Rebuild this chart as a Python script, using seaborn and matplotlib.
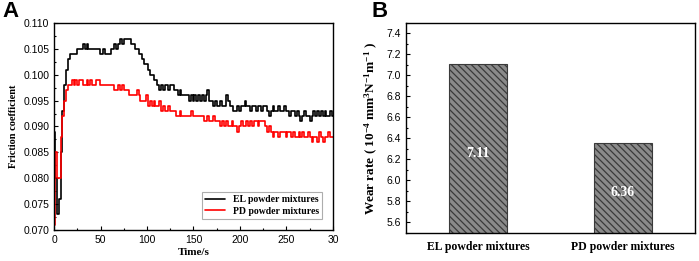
import numpy as np
import pandas as pd
import matplotlib
matplotlib.use("Agg")
import matplotlib.pyplot as plt
import seaborn as sns
from matplotlib.ticker import MultipleLocator

# ---------------- data ----------------
time_s = list(range(0, 301, 2))

el_friction = [
    0.089, 0.080, 0.073, 0.076, 0.085, 0.093, 0.098, 0.101, 0.103, 0.104,  # 0-18
    0.104, 0.104, 0.104, 0.105, 0.105, 0.105, 0.106, 0.105, 0.106, 0.105,  # 20-38
    0.105, 0.105, 0.105, 0.105, 0.105, 0.104, 0.104, 0.105, 0.104, 0.104,  # 40-58
    0.104, 0.105, 0.105, 0.106, 0.105, 0.106, 0.107, 0.106, 0.107, 0.107,  # 60-78
    0.107, 0.107, 0.106, 0.106, 0.105, 0.105, 0.104, 0.104, 0.103, 0.102,  # 80-98
    0.102, 0.101, 0.100, 0.100, 0.099, 0.099, 0.098, 0.097, 0.098, 0.097,  # 100-118
    0.098, 0.098, 0.097, 0.098, 0.098, 0.097, 0.097, 0.096, 0.097, 0.096,  # 120-138
    0.096, 0.096, 0.096, 0.095, 0.096, 0.095, 0.096, 0.095, 0.096, 0.095,  # 140-158
    0.096, 0.095, 0.096, 0.097, 0.095, 0.095, 0.094, 0.095, 0.094, 0.094,  # 160-178
    0.095, 0.094, 0.094, 0.096, 0.095, 0.094, 0.094, 0.093, 0.093, 0.094,  # 180-198
    0.093, 0.094, 0.094, 0.095, 0.094, 0.094, 0.093, 0.094, 0.094, 0.093,  # 200-218
    0.094, 0.094, 0.093, 0.094, 0.094, 0.093, 0.092, 0.093, 0.094, 0.093,  # 220-238
    0.093, 0.094, 0.093, 0.093, 0.094, 0.093, 0.093, 0.092, 0.093, 0.093,  # 240-258
    0.092, 0.093, 0.092, 0.091, 0.092, 0.093, 0.092, 0.092, 0.091, 0.092,  # 260-278
    0.093, 0.092, 0.093, 0.092, 0.093, 0.092, 0.093, 0.092, 0.092, 0.093,  # 280-298
    0.092,                                                                 # 300
]

pd_friction = [
    0.071, 0.085, 0.080, 0.080, 0.088, 0.092, 0.095, 0.097, 0.098, 0.098,  # 0-18
    0.099, 0.098, 0.099, 0.098, 0.099, 0.099, 0.098, 0.098, 0.099, 0.098,  # 20-38
    0.099, 0.098, 0.098, 0.099, 0.099, 0.098, 0.098, 0.098, 0.098, 0.098,  # 40-58
    0.098, 0.098, 0.098, 0.097, 0.097, 0.098, 0.097, 0.098, 0.097, 0.097,  # 60-78
    0.097, 0.096, 0.096, 0.096, 0.096, 0.097, 0.096, 0.095, 0.095, 0.095,  # 80-98
    0.096, 0.094, 0.095, 0.094, 0.095, 0.094, 0.094, 0.095, 0.093, 0.094,  # 100-118
    0.093, 0.093, 0.094, 0.093, 0.093, 0.093, 0.092, 0.092, 0.093, 0.092,  # 120-138
    0.092, 0.092, 0.092, 0.092, 0.093, 0.092, 0.092, 0.092, 0.092, 0.092,  # 140-158
    0.092, 0.091, 0.091, 0.092, 0.091, 0.091, 0.092, 0.091, 0.091, 0.091,  # 160-178
    0.090, 0.091, 0.090, 0.091, 0.090, 0.090, 0.091, 0.090, 0.090, 0.089,  # 180-198
    0.090, 0.091, 0.090, 0.090, 0.091, 0.090, 0.091, 0.090, 0.091, 0.091,  # 200-218
    0.090, 0.091, 0.091, 0.091, 0.090, 0.089, 0.090, 0.089, 0.088, 0.089,  # 220-238
    0.089, 0.088, 0.089, 0.089, 0.089, 0.088, 0.089, 0.089, 0.088, 0.089,  # 240-258
    0.088, 0.088, 0.089, 0.088, 0.089, 0.088, 0.088, 0.089, 0.088, 0.087,  # 260-278
    0.088, 0.088, 0.087, 0.089, 0.088, 0.087, 0.088, 0.088, 0.089, 0.088,  # 280-298
    0.088,                                                                 # 300
]

series_labels = ["EL powder mixtures", "PD powder mixtures"]
wear_categories = ["EL powder mixtures", "PD powder mixtures"]
wear_rates = [7.11, 6.36]
x_tick_values = [0, 50, 100, 150, 200, 250, 300]
x_tick_labels = ["0", "50", "100", "150", "200", "250", "30"]

# ---------------- style ----------------
sns.set_style("ticks")
plt.rcParams["font.family"] = ["Liberation Sans", "DejaVu Sans"]
plt.rcParams["mathtext.fontset"] = "custom"
plt.rcParams["mathtext.rm"] = "Liberation Serif:bold"
plt.rcParams["mathtext.bf"] = "Liberation Serif:bold"
plt.rcParams["mathtext.it"] = "Liberation Serif:bold"
plt.rcParams["hatch.linewidth"] = 0.9
plt.rcParams["hatch.color"] = "#3a3a3a"
for k in ["text.color", "axes.labelcolor", "xtick.color", "ytick.color", "axes.edgecolor"]:
    plt.rcParams[k] = "black"

serif_bold = dict(family="Liberation Serif", weight="bold")

fig = plt.figure(figsize=(6.99, 2.61), dpi=100)
axA = fig.add_axes([0.0773, 0.1188, 0.399, 0.7931])
axB = fig.add_axes([0.5808, 0.1073, 0.4135, 0.8046])

# ---------------- Panel A ----------------
df = pd.DataFrame({
    "time": time_s * 2,
    "mu": el_friction + pd_friction,
    "series": [series_labels[0]] * len(time_s) + [series_labels[1]] * len(time_s),
})
sns.lineplot(data=df, x="time", y="mu", hue="series",
             palette={series_labels[0]: "black", series_labels[1]: "#ff0000"},
             drawstyle="steps-mid", linewidth=1.2, ax=axA, legend=True)
axA.set_xlim(0, 300)
axA.set_ylim(0.070, 0.110)
axA.set_xticks(x_tick_values)
axA.set_xticklabels(x_tick_labels)
axA.yaxis.set_major_locator(MultipleLocator(0.005))
axA.yaxis.set_major_formatter(matplotlib.ticker.FormatStrFormatter("%.3f"))
axA.xaxis.set_minor_locator(MultipleLocator(25))
axA.yaxis.set_minor_locator(MultipleLocator(0.0025))
axA.tick_params(which="both", direction="in", labelsize=7.5, width=0.8)
axA.tick_params(which="major", length=3)
axA.tick_params(which="minor", length=1.5)
axA.set_xlabel("Time/s", fontsize=8, labelpad=2, **serif_bold)
axA.set_ylabel("Friction coefficient", fontsize=7.5, labelpad=4, **serif_bold)
for s in axA.spines.values():
    s.set_linewidth(1.0)
leg = axA.legend(loc="lower right", prop=dict(family="Liberation Serif", weight="bold", size=7),
                 frameon=True, fancybox=False, edgecolor="#999999", handlelength=2.0,
                 borderaxespad=1.1, borderpad=0.35, labelspacing=0.3, handletextpad=0.8)
leg.get_frame().set_linewidth(0.8)
fig.text(0.004, 0.995, "A", fontsize=16, weight="bold", family="Liberation Sans", va="top")

# ---------------- Panel B ----------------
sns.barplot(x=wear_categories, y=wear_rates, color="#8a8a8a", width=0.4,
            edgecolor="#3a3a3a", linewidth=0.8, hatch="\\\\\\\\\\", ax=axB, saturation=1)
axB.set_ylim(5.5, 7.5)
axB.set_xlim(-0.5, 1.5)
axB.yaxis.set_major_locator(MultipleLocator(0.2))
axB.yaxis.set_minor_locator(MultipleLocator(0.1))
axB.yaxis.set_major_formatter(matplotlib.ticker.FormatStrFormatter("%.1f"))
axB.tick_params(which="both", direction="in", width=0.8)
axB.tick_params(axis="y", which="major", length=3, labelsize=7.5)
axB.tick_params(axis="y", which="minor", length=1.5)
axB.tick_params(axis="x", which="major", length=3, pad=6)
for lbl in axB.get_xticklabels():
    lbl.set_fontfamily("Liberation Serif")
    lbl.set_fontweight("bold")
    lbl.set_fontsize(8.5)
axB.set_xlabel("")
axB.set_ylabel(r"Wear rate ( 10$^{-4}$ mm$^{3}$N$^{-1}$m$^{-1}$ )", fontsize=9.5, labelpad=5,
               **serif_bold)
for s in axB.spines.values():
    s.set_linewidth(1.0)
label_y = [6.26, 5.89]
for i, v in enumerate(wear_rates):
    axB.text(i, label_y[i], f"{v:.2f}", color="white", ha="center", va="center",
             fontsize=10, **serif_bold)
fig.text(0.532, 0.995, "B", fontsize=16, weight="bold", family="Liberation Sans", va="top")

fig.savefig("out.png", dpi=100)
